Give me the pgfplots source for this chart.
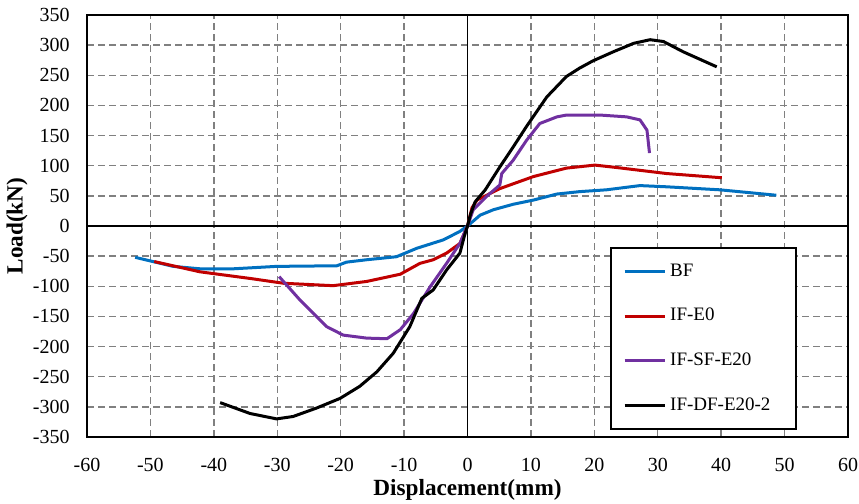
\documentclass[border=0pt]{standalone}
\usepackage{pgfplots}
\pgfplotsset{compat=1.18}
\usepackage{fontspec}
\setmainfont{Liberation Serif}
\definecolor{cBF}{RGB}{0,112,192}
\definecolor{cE0}{RGB}{192,0,0}
\definecolor{cSF}{RGB}{112,48,160}
\begin{document}
\begin{tikzpicture}
\begin{axis}[
  scale only axis,
  width=380.5pt, height=211pt,
  xmin=-60, xmax=60, ymin=-350, ymax=350,
  xtick={-60,-50,...,60}, ytick={-350,-300,...,350},
  /pgf/number format/assume math mode=true,
  ticklabel style={font=\fontsize{10}{12}\selectfont},
  xticklabel style={anchor=center, yshift=-14pt},
  yticklabel style={anchor=east, inner sep=0pt, xshift=-8.5pt},
  major tick length=0pt,
  grid=major,
  major grid style={black!50, dashed, line width=0.7pt, dash pattern=on 3.5pt off 2pt},
  axis line style={line width=1.3pt},
  xlabel={\fontsize{11.6}{14}\selectfont\bfseries Displacement(mm)},
  ylabel={\fontsize{11.6}{14}\selectfont\bfseries Load(kN)},
  every axis x label/.style={at={(axis description cs:0.5,0)}, yshift=-26.5pt, anchor=center},
  every axis y label/.style={at={(axis description cs:0,0.5)}, xshift=-35pt, rotate=90, anchor=center},
  legend style={at={(axis cs:22.5,-35)}, anchor=north west, draw=black, line width=0.8pt,
    font=\fontsize{9.5}{11}\selectfont, row sep=10.5pt, inner xsep=6pt, inner ysep=6pt,
    nodes={text width=55pt}},
  legend cell align=left,
  legend image code/.code={\draw[#1, line width=1.6pt] (0pt,0pt) -- (20pt,0pt);},
  every axis plot/.append style={line width=1.5pt, line join=round},
  clip=true,
]
\draw[black, line width=0.6pt] (axis cs:0,-350) -- (axis cs:0,350);
\draw[black, line width=0.6pt] (axis cs:-60,0) -- (axis cs:60,0);
\addplot[cBF] coordinates {
(-52.4,-52) (-49.6,-59) (-46.4,-67) (-42.2,-71) (-36.9,-71) (-30.1,-67) (-20.6,-66) (-19.1,-60) (-15.9,-56) (-11.2,-51) (-8,-37) (-3.8,-23) (-1.2,-9) (0,0)
(2,18) (4.1,27) (7.2,36) (10.4,43) (14.1,53) (17.7,57) (21.9,60) (27.2,67) (31.4,65) (39.8,60) (48.7,51)
};
\addlegendentry{BF}
\addplot[cE0] coordinates {
(-49.4,-59) (-42.2,-76) (-34.3,-87) (-29,-95) (-21.2,-99) (-15.9,-92) (-10.6,-80) (-7.5,-62) (-5.4,-56) (-3.3,-45) (-1.2,-29) (0,0)
(0.7,30) (1.5,43) (5.1,62) (10.4,82) (15.6,96) (20.1,101) (23.5,97) (31.4,87) (40.1,80)
};
\addlegendentry{IF-E0}
\addplot[cSF] coordinates {
(-29.7,-84) (-26.4,-123) (-22.2,-167) (-19.6,-181) (-15.9,-186) (-12.7,-187) (-10.6,-172) (-8.5,-145) (-5.9,-101) (-3.3,-62) (-1.2,-29) (0,0)
(0.9,27) (3,49) (5.1,68) (5.4,87) (7.2,109) (9.3,142) (11.4,170) (14.1,181) (15.6,184) (20.9,184) (25.1,181) (27.2,176) (28.3,159) (28.7,121)
};
\addlegendentry{IF-SF-E20}
\addplot[black] coordinates {
(-39,-293) (-34.3,-311) (-30.1,-320) (-27.5,-316) (-23.8,-302) (-20.1,-286) (-17,-266) (-14.3,-242) (-11.7,-211) (-9.1,-167) (-7.2,-120) (-5.4,-106) (-3.3,-73) (-1.2,-45) (-0.5,-17) (0,0)
(0.5,20) (1.2,40) (2.8,60) (5.1,98) (7.2,131) (9.3,165) (12.5,214) (15.6,248) (17.7,262) (19.8,274) (23,289) (26.2,303) (28.8,309) (30.9,306) (34,289) (39.3,264)
};
\addlegendentry{IF-DF-E20-2}
\end{axis}
\pgfresetboundingbox
\path[use as bounding box] ([xshift=-43.5pt,yshift=-33.5pt]current axis.south west) rectangle ([xshift=5.5pt,yshift=7.5pt]current axis.north east);
\end{tikzpicture}
\end{document}
